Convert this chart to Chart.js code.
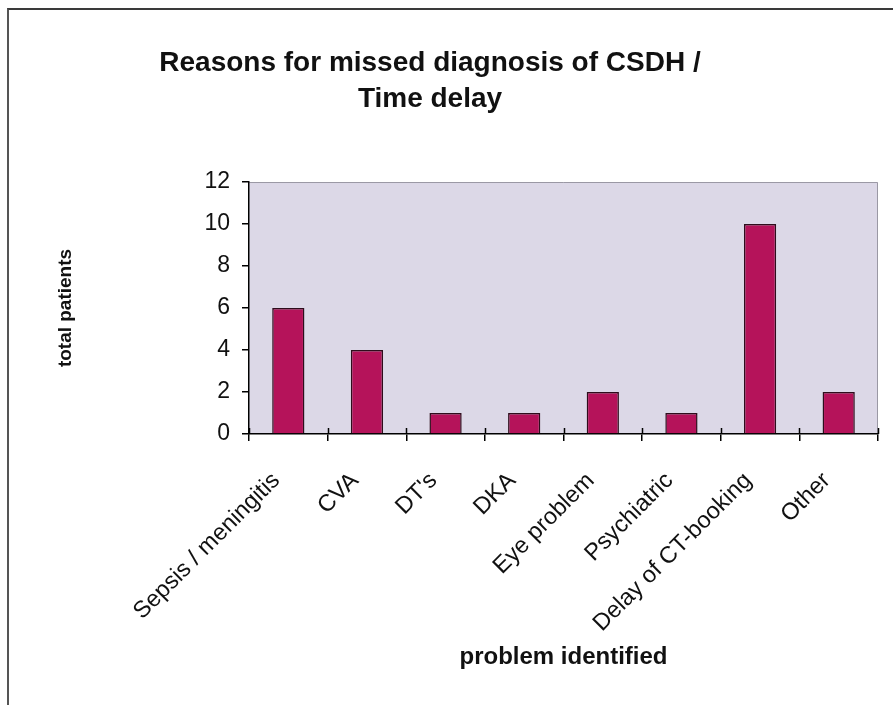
<!DOCTYPE html>
<html>
<head>
<meta charset="utf-8">
<script src="https://cdn.jsdelivr.net/npm/chart.js@4/dist/chart.umd.min.js"></script>
<style>
  html, body { margin: 0; padding: 0; background: #ffffff; }
  #wrap { position: relative; width: 893px; height: 705px; }
  #frame { position: absolute; left: 7px; top: 8px; width: 900px; height: 720px;
           border-top: 2px solid #3a3a3a; border-left: 2px solid #555; pointer-events: none; }
  canvas { position: absolute; left: 0; top: 0; }
</style>
</head>
<body>
<div id="wrap">
  <canvas id="c" width="893" height="705"></canvas>
  <div id="frame"></div>
</div>
<script>
const titleLines = ["Reasons for missed diagnosis of CSDH /", "Time delay"];
const categories = ["Sepsis / meningitis", "CVA", "DT's", "DKA", "Eye problem", "Psychiatric", "Delay of CT-booking", "Other"];
const patients = [6, 4, 1, 1, 2, 1, 10, 2];
const yTicks = [0, 2, 4, 6, 8, 10, 12];
const xAxisTitle = "problem identified";
const yAxisTitle = "total patients";

const FONT = "'Liberation Sans', Arial, sans-serif";

const plotBg = {
  id: 'plotBg',
  beforeDraw(chart) {
    const {ctx, chartArea: a} = chart;
    ctx.save();
    ctx.fillStyle = '#dcd8e7';
    ctx.fillRect(a.left, a.top, a.right - a.left, a.bottom - a.top);
    ctx.strokeStyle = '#9a98a4';
    ctx.lineWidth = 1;
    ctx.beginPath();
    ctx.moveTo(a.left, a.top + 0.5);
    ctx.lineTo(a.right - 0.5, a.top + 0.5);
    ctx.lineTo(a.right - 0.5, a.bottom);
    ctx.stroke();
    ctx.restore();
  },
  afterDraw(chart) {
    const {ctx} = chart;
    const xs = chart.scales.x;
    ctx.save();
    ctx.strokeStyle = '#000';
    ctx.lineWidth = 1.5;
    ctx.beginPath();
    for (let i = 0; i <= categories.length; i++) {
      const px = Math.round(xs.getPixelForValue(i - 0.5)) + 0.5;
      ctx.moveTo(px, xs.top - 6);
      ctx.lineTo(px, xs.top);
    }
    ctx.stroke();
    ctx.restore();
  },
  afterLayout(chart) {
    const t = chart.titleBlock;
    if (t) { t.left = 0; t.right = 860; }
  }
};

new Chart(document.getElementById('c'), {
  type: 'bar',
  data: {
    labels: categories,
    datasets: [{
      data: patients,
      backgroundColor: '#b5135a',
      borderColor: '#2e0d1c',
      borderWidth: 1.5,
      categoryPercentage: 1,
      barPercentage: 0.41
    }]
  },
  options: {
    responsive: false,
    animation: false,
    devicePixelRatio: 1,
    layout: { padding: { left: 0, right: 15, top: 0, bottom: 0 } },
    plugins: {
      legend: { display: false },
      tooltip: { enabled: false },
      title: {
        display: true,
        text: titleLines,
        color: '#111',
        font: { family: FONT, size: 28, weight: 'bold', lineHeight: 1.286 },
        padding: { top: 45, bottom: 65 }
      }
    },
    scales: {
      x: {
        grid: { display: true, drawOnChartArea: false, offset: true, tickLength: 7, color: '#000', lineWidth: 1.5 },
        border: { display: true, color: '#000', width: 1.5 },
        ticks: {
          color: '#111',
          font: { family: FONT, size: 23.5 },
          maxRotation: 45, minRotation: 45,
          padding: 26,
          labelOffset: -12,
          autoSkip: false
        },
        title: {
          display: true,
          text: xAxisTitle,
          color: '#111',
          font: { family: FONT, size: 24, weight: 'bold', lineHeight: 1.2 },
          padding: { top: 0, bottom: 33 }
        },
        afterFit(scale) { scale.height = 271; }
      },
      y: {
        min: 0, max: 12,
        afterBuildTicks(scale) { scale.ticks = yTicks.map(v => ({ value: v })); },
        grid: { display: true, drawOnChartArea: false, tickLength: 7, color: '#000', lineWidth: 1.5 },
        border: { display: true, color: '#000', width: 1.5 },
        ticks: {
          color: '#111',
          font: { family: FONT, size: 23 },
          padding: 12
        },
        title: {
          display: true,
          text: yAxisTitle,
          color: '#111',
          font: { family: FONT, size: 19, weight: 'bold', lineHeight: 1.2 },
          padding: { top: 54, bottom: 0 }
        },
        afterFit(scale) { scale.width = 249; }
      }
    }
  },
  plugins: [plotBg]
});
</script>
</body>
</html>
